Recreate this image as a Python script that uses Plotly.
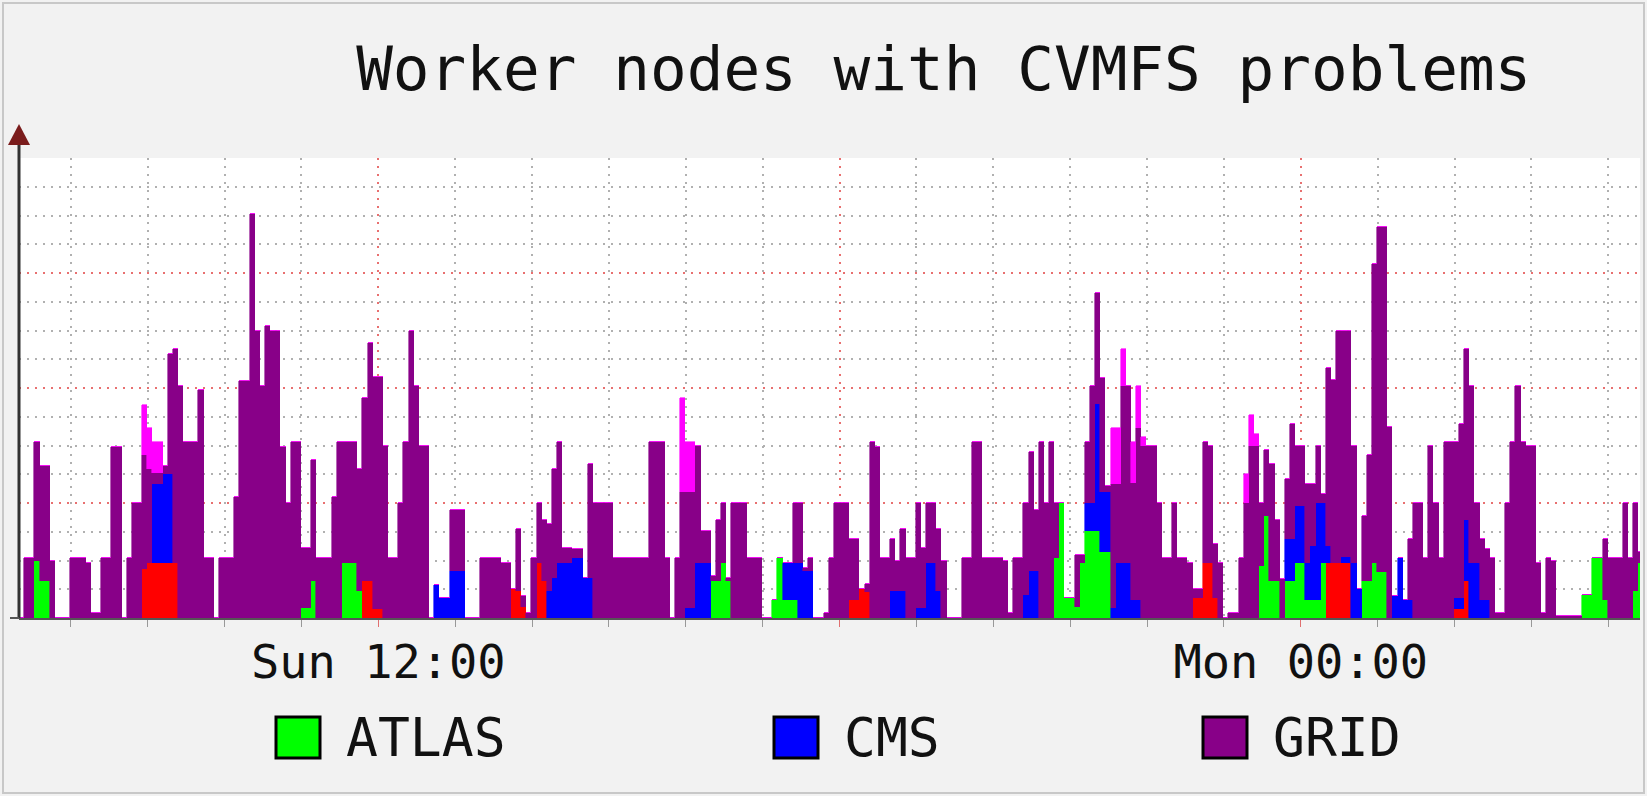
import plotly.graph_objects as go
import pandas as pd

# ---------------- data (4-minute samples) ----------------
START = "2024-03-10 07:19:34"      # a Sunday; left edge of the time axis
END = "2024-03-11 04:24:45"        # right edge of the time axis
STEP = "4min"

# GRID (purple)
grid = [
    0, 1.05, 1.05, 2.06, 2.01, 2.01, 1.0, 0, 0, 0,                 # 0
    1.05, 1.05, 1.05, 0.96, 0.09, 0.09, 1.05, 1.05, 2.98, 2.98,   # 10
    0, 1.05, 2.0, 2.0, 1.98, 1.64, 0.2, 0.2, 0.15, 2.1,           # 20
    3.71, 4.03, 3.06, 3.06, 3.06, 3.97, 1.05, 1.05, 0, 1.05,      # 30
    1.05, 1.05, 2.1, 4.12, 4.12, 7.03, 5.0, 4.03, 5.08, 5.0,      # 40
    5.0, 2.98, 2.0, 3.06, 3.06, 1.05, 1.05, 2.1, 1.05, 1.05,      # 50
    1.05, 2.1, 3.06, 2.1, 2.1, 2.1, 2.13, 3.18, 4.14, 4.05,       # 60
    4.05, 3.0, 1.05, 1.05, 2.0, 3.06, 5.0, 4.03, 3.0, 3.0,        # 70
    0, 0, 0, 0, 1.05, 1.05, 1.05, 0, 0, 0,                        # 80
    1.05, 1.05, 1.05, 1.05, 0.96, 0.96, 0, 1.08, 0.18, 0.09,      # 90
    1.05, 1.04, 1.06, 1.16, 1.9, 2.1, 0.26, 0.26, 0.15, 0.15,     # 100
    0, 1.98, 2.0, 2.0, 2.0, 2.0, 1.05, 1.05, 1.05, 1.05,          # 110
    1.05, 1.05, 1.05, 3.06, 3.06, 3.06, 1.05, 0, 1.05, 2.19,      # 120
    2.02, 2.02, 2.04, 0.56, 0.56, 0.09, 1.06, 1.04, 0.06, 2.0,    # 130
    2.0, 2.0, 1.05, 1.05, 1.05, 0, 0, 0, 0, 0,                    # 140
    0, 1.04, 1.04, 0.05, 0.23, 0, 0, 0.09, 1.05, 2.0,             # 150
    2.0, 2.0, 1.05, 1.05, 0, 0.15, 3.06, 2.98, 1.05, 1.05,        # 160
    0.9, 0.53, 1.08, 1.05, 1.05, 1.83, 1.05, 1.04, 1.04, 1.08,    # 170
    1.0, 0, 0, 0, 1.05, 1.05, 3.06, 3.06, 1.05, 1.05,             # 180
    1.05, 1.05, 1.0, 0.09, 1.05, 1.05, 1.6, 2.06, 1.05, 3.06,     # 190
    2.0, 3.06, 0.95, 0, 0, 0, 0.9, 0.14, 1.06, 2.03,              # 200
    1.93, 1.98, 0.11, 2.16, 1.37, 3.07, 3.07, 2.03, 2.98, 3.0,    # 210
    3.0, 3.0, 2.0, 1.05, 1.05, 2.0, 1.05, 1.05, 0.96, 0.15,       # 220
    0.15, 2.1, 2.04, 0.93, 0.96, 0, 0.09, 0.09, 1.05, 2.0,        # 230
    3.0, 3.0, 1.1, 1.14, 2.04, 1.06, 0.67, 1.05, 2.01, 1.05,      # 240
    1.05, 1.37, 1.08, 1.0, 0.16, 3.09, 3.18, 4.04, 3.94, 3.94,    # 250
    2.04, 0, 1.14, 2.19, 5.19, 6.0, 6.0, 3.33, 0, 0,              # 260
    0, 1.05, 2.0, 2.0, 1.05, 3.0, 2.0, 1.05, 3.06, 3.06,          # 270
    2.71, 3.03, 2.97, 3.07, 1.04, 1.05, 0.88, 1.05, 0.09, 0.09,   # 280
    2.0, 3.06, 4.03, 3.06, 3.0, 3.0, 0.96, 0.09, 1.05, 1.0,       # 290
    0.03, 0.03, 0.03, 0.03, 0.03, 0, 0, 0, 0, 1.05,               # 300
    1.05, 1.05, 1.05, 2.0, 1.05, 1.53, 0.18,                      # 310
]

# ATLAS (green)
atlas = [
    0, 0, 0, 1.0, 0.64, 0.64, 0, 0, 0, 0,          # 0
    0, 0, 0, 0, 0, 0, 0, 0, 0, 0,                  # 10
    0, 0, 0, 0, 0, 0, 0, 0, 0, 0,                  # 20
    0, 0, 0, 0, 0, 0, 0, 0, 0, 0,                  # 30
    0, 0, 0, 0, 0, 0, 0, 0, 0, 0,                  # 40
    0, 0, 0, 0, 0, 0.17, 0.17, 0.64, 0, 0,         # 50
    0, 0, 0, 0.96, 0.96, 0.96, 0.47, 0, 0, 0,      # 60
    0, 0, 0, 0, 0, 0, 0, 0, 0, 0,                  # 70
    0, 0, 0, 0, 0, 0, 0, 0, 0, 0,                  # 80
    0, 0, 0, 0, 0, 0, 0, 0, 0, 0,                  # 90
    0, 0, 0, 0, 0, 0, 0, 0, 0, 0,                  # 100
    0, 0, 0, 0, 0, 0, 0, 0, 0, 0,                  # 110
    0, 0, 0, 0, 0, 0, 0, 0, 0, 0,                  # 120
    0, 0, 0, 0, 0, 0.64, 0.64, 0.96, 0.64, 0,      # 130
    0, 0, 0, 0, 0, 0, 0, 0.32, 1.05, 0.32,         # 140
    0.32, 0.32, 0, 0, 0, 0, 0, 0, 0, 0,            # 150
    0, 0, 0, 0, 0, 0, 0, 0, 0, 0,                  # 160
    0, 0, 0, 0, 0, 0, 0, 0, 0, 0,                  # 170
    0, 0, 0, 0, 0, 0, 0, 0, 0, 0,                  # 180
    0, 0, 0, 0, 0, 0, 0, 0, 0, 0,                  # 190
    0, 0, 1.05, 2.0, 0.35, 0.35, 0.2, 0.96, 1.52, 1.52,   # 200
    1.52, 1.14, 1.14, 0, 0, 0, 0, 0, 0, 0,         # 210
    0, 0, 0, 0, 0, 0, 0, 0, 0, 0,                  # 220
    0, 0, 0, 0, 0, 0, 0, 0, 0, 0,                  # 230
    0, 0, 0.9, 1.78, 0.64, 0.64, 0, 0.64, 0.64, 0.96,     # 240
    0.96, 0.32, 0.32, 0.32, 0.96, 0, 0, 0, 0, 0,   # 250
    0, 0, 0.64, 0.64, 0.96, 0.8, 0.8, 0, 0, 0,     # 260
    0, 0, 0, 0, 0, 0, 0, 0, 0, 0,                  # 270
    0, 0, 0, 0, 0, 0, 0, 0, 0, 0,                  # 280
    0, 0, 0, 0, 0, 0, 0, 0, 0, 0,                  # 290
    0, 0, 0, 0, 0, 0.4, 0.4, 1.05, 1.05, 0.32,     # 300
    0, 0, 0, 0, 0, 0.47, 0.96,                     # 310
]

# CMS (blue)
cms = [
    0, 0, 0, 0, 0, 0, 0, 0, 0, 0,                  # 0
    0, 0, 0, 0, 0, 0, 0, 0, 0, 0,                  # 10
    0, 0, 0, 0, 0, 0, 1.37, 1.37, 1.54, 1.54,      # 20
    0, 0, 0, 0, 0, 0, 0, 0, 0, 0,                  # 30
    0, 0, 0, 0, 0, 0, 0, 0, 0, 0,                  # 40
    0, 0, 0, 0, 0, 0, 0, 0, 0, 0,                  # 50
    0, 0, 0, 0, 0, 0, 0, 0, 0, 0,                  # 60
    0, 0, 0, 0, 0, 0, 0, 0, 0, 0,                  # 70
    0, 0.58, 0.35, 0.35, 0.82, 0.82, 0.82, 0, 0, 0,       # 80
    0, 0, 0, 0, 0, 0, 0, 0, 0, 0,                  # 90
    0, 0, 0, 0.47, 0.7, 0.96, 0.96, 0.96, 1.05, 1.05,     # 100
    0.7, 0.7, 0, 0, 0, 0, 0, 0, 0, 0,              # 110
    0, 0, 0, 0, 0, 0, 0, 0, 0, 0,                  # 120
    0.17, 0.17, 0.96, 0.96, 0.96, 0, 0, 0, 0, 0,   # 130
    0, 0, 0, 0, 0, 0, 0, 0, 0, 0.64,               # 140
    0.64, 0.64, 0.96, 0.82, 0.82, 0, 0, 0, 0, 0,   # 150
    0, 0, 0, 0, 0, 0, 0, 0, 0, 0,                  # 160
    0.47, 0.47, 0.47, 0, 0, 0.17, 0.17, 0.96, 0.96, 0.47, # 170
    0, 0, 0, 0, 0, 0, 0, 0, 0, 0,                  # 180
    0, 0, 0, 0, 0, 0, 0.4, 0.82, 0.82, 0,          # 190
    0, 0, 0, 0, 0, 0, 0, 0, 0.48, 0.48,            # 200
    2.21, 1.05, 1.05, 0.17, 0.96, 0.96, 0.96, 0.32, 0.32, 0,  # 210
    0, 0, 0, 0, 0, 0, 0, 0, 0, 0,                  # 220
    0, 0, 0, 0, 0, 0, 0, 0, 0, 0,                  # 230
    0, 0, 0, 0, 0, 0, 0, 0.73, 0.73, 0.99,         # 240
    0.99, 0.64, 0.93, 1.68, 1.04, 0.3, 0, 0, 0.1, 0.1,    # 250
    0.96, 0.5, 0, 0, 0, 0, 0, 0, 0.38, 1.05,       # 260
    0.32, 0.32, 0, 0, 0, 0, 0, 0, 0, 0,            # 270
    0.2, 0.2, 1.06, 0.96, 0.96, 0.32, 0.32, 0, 0, 0,      # 280
    0, 0, 0, 0, 0, 0, 0, 0, 0, 0,                  # 290
    0, 0, 0, 0, 0, 0, 0, 0, 0, 0,                  # 300
    0, 0, 0, 0, 0, 0, 0,                           # 310
]

# unlabelled red series (drawn at the bottom of the stack)
red_series = [
    0, 0, 0, 0, 0, 0, 0, 0, 0, 0,                  # 0
    0, 0, 0, 0, 0, 0, 0, 0, 0, 0,                  # 10
    0, 0, 0, 0, 0.85, 0.96, 0.96, 0.96, 0.96, 0.96,       # 20
    0.96, 0, 0, 0, 0, 0, 0, 0, 0, 0,               # 30
    0, 0, 0, 0, 0, 0, 0, 0, 0, 0,                  # 40
    0, 0, 0, 0, 0, 0, 0, 0, 0, 0,                  # 50
    0, 0, 0, 0, 0, 0, 0, 0.64, 0.64, 0.15,         # 60
    0.15, 0, 0, 0, 0, 0, 0, 0, 0, 0,               # 70
    0, 0, 0, 0, 0, 0, 0, 0, 0, 0,                  # 80
    0, 0, 0, 0, 0, 0, 0.5, 0.47, 0.2, 0,           # 90
    0, 0.96, 0.64, 0, 0, 0, 0, 0, 0, 0,            # 100
    0, 0, 0, 0, 0, 0, 0, 0, 0, 0,                  # 110
    0, 0, 0, 0, 0, 0, 0, 0, 0, 0,                  # 120
    0, 0, 0, 0, 0, 0, 0, 0, 0, 0,                  # 130
    0, 0, 0, 0, 0, 0, 0, 0, 0, 0,                  # 140
    0, 0, 0, 0, 0, 0, 0, 0, 0, 0,                  # 150
    0, 0, 0.32, 0.32, 0.5, 0.45, 0, 0, 0, 0,       # 160
    0, 0, 0, 0, 0, 0, 0, 0, 0, 0,                  # 170
    0, 0, 0, 0, 0, 0, 0, 0, 0, 0,                  # 180
    0, 0, 0, 0, 0, 0, 0, 0, 0, 0,                  # 190
    0, 0, 0, 0, 0, 0, 0, 0, 0, 0,                  # 200
    0, 0, 0, 0, 0, 0, 0, 0, 0, 0,                  # 210
    0, 0, 0, 0, 0, 0, 0, 0, 0, 0.35,               # 220
    0.35, 0.96, 0.96, 0.35, 0, 0, 0, 0, 0, 0,      # 230
    0, 0, 0, 0, 0, 0, 0, 0, 0, 0,                  # 240
    0, 0, 0, 0, 0, 0.96, 0.96, 0.96, 0.96, 0.96,   # 250
    0, 0, 0, 0, 0, 0, 0, 0, 0, 0,                  # 260
    0, 0, 0, 0, 0, 0, 0, 0, 0, 0,                  # 270
    0.15, 0.15, 0.64, 0, 0, 0, 0, 0, 0, 0,         # 280
    0, 0, 0, 0, 0, 0, 0, 0, 0, 0,                  # 290
    0, 0, 0, 0, 0, 0, 0, 0, 0, 0,                  # 300
    0, 0, 0, 0, 0, 0, 0,                           # 310
]

# unlabelled magenta series (drawn at the top of the stack)
magenta_series = [
    0, 0, 0, 0, 0, 0, 0, 0, 0, 0,                  # 0
    0, 0, 0, 0, 0, 0, 0, 0, 0, 0,                  # 10
    0, 0, 0, 0, 0.87, 0.7, 0.53, 0.53, 0, 0,       # 20
    0, 0, 0, 0, 0, 0, 0, 0, 0, 0,                  # 30
    0, 0, 0, 0, 0, 0, 0, 0, 0, 0,                  # 40
    0, 0, 0, 0, 0, 0, 0, 0, 0, 0,                  # 50
    0, 0, 0, 0, 0, 0, 0, 0, 0, 0,                  # 60
    0, 0, 0, 0, 0, 0, 0, 0, 0, 0,                  # 70
    0, 0, 0, 0, 0, 0, 0, 0, 0, 0,                  # 80
    0, 0, 0, 0, 0, 0, 0, 0, 0, 0,                  # 90
    0, 0, 0, 0, 0, 0, 0, 0, 0, 0,                  # 100
    0, 0, 0, 0, 0, 0, 0, 0, 0, 0,                  # 110
    0, 0, 0, 0, 0, 0, 0, 0, 0, 1.63,               # 120
    0.87, 0.87, 0, 0, 0, 0, 0, 0, 0, 0,            # 130
    0, 0, 0, 0, 0, 0, 0, 0, 0, 0,                  # 140
    0, 0, 0, 0, 0, 0, 0, 0, 0, 0,                  # 150
    0, 0, 0, 0, 0, 0, 0, 0, 0, 0,                  # 160
    0, 0, 0, 0, 0, 0, 0, 0, 0, 0,                  # 170
    0, 0, 0, 0, 0, 0, 0, 0, 0, 0,                  # 180
    0, 0, 0, 0, 0, 0, 0, 0, 0, 0,                  # 190
    0, 0, 0, 0, 0, 0, 0, 0, 0, 0,                  # 200
    0, 0, 0, 0.97, 0.97, 0.64, 0, 0.71, 0.73, 0.15,       # 210
    0, 0, 0, 0, 0, 0, 0, 0, 0, 0,                  # 220
    0, 0, 0, 0, 0, 0, 0, 0, 0, 0.5,                # 230
    0.53, 0.2, 0, 0, 0, 0, 0, 0, 0, 0,             # 240
    0, 0, 0, 0, 0, 0, 0, 0, 0, 0,                  # 250
    0, 0, 0, 0, 0, 0, 0, 0, 0, 0,                  # 260
    0, 0, 0, 0, 0, 0, 0, 0, 0, 0,                  # 270
    0, 0, 0, 0, 0, 0, 0, 0, 0, 0,                  # 280
    0, 0, 0, 0, 0, 0, 0, 0, 0, 0,                  # 290
    0, 0, 0, 0, 0, 0, 0, 0, 0, 0,                  # 300
    0, 0, 0, 0, 0, 0, 0,                           # 310
]

TICK_TIMES = ["2024-03-10 12:00", "2024-03-10 18:00", "2024-03-11 00:00"]
TICK_TEXT = ["Sun 12:00", "", "Mon 00:00"]
LEGEND_NAMES = ["ATLAS", "CMS", "GRID"]
TITLE = "Worker nodes with CVMFS problems"

# ---------------- styling ----------------
C_RED, C_GREEN, C_BLUE, C_PURPLE, C_MAGENTA = "#ff0000", "#00ff00", "#0000ff", "#880088", "#ff00ff"
FONT = "DejaVu Sans Mono"
BG = "#f2f2f2"
W, H = 1647, 796

n = len(grid)
for arr in (atlas, cms, red_series, magenta_series):
    assert len(arr) == n, len(arr)

step = pd.Timedelta(STEP)
times = pd.date_range(START, periods=n, freq=STEP) + step / 2
width_ms = step.total_seconds() * 1000

fig = go.Figure()
for vals, col, name in [
    (red_series, C_RED, "other"),
    (atlas, C_GREEN, "ATLAS"),
    (cms, C_BLUE, "CMS"),
    (grid, C_PURPLE, "GRID"),
    (magenta_series, C_MAGENTA, "other2"),
]:
    fig.add_trace(go.Bar(
        x=times, y=vals, width=width_ms, name=name,
        marker=dict(color=col, line=dict(color=col, width=0.6)),
        showlegend=False, hoverinfo="skip",
    ))

dots = "2px,6px"
RED_GRID = "#e87070"
GRAY_GRID = "#b0b0b0"
fig.update_layout(
    width=W, height=H,
    paper_bgcolor=BG, plot_bgcolor="white",
    barmode="stack", bargap=0,
    margin=dict(l=19, r=7, t=158, b=178),
    title=dict(text=TITLE, font=dict(family=FONT, size=61, color="#111111"),
               xref="container", x=0.573, xanchor="center",
               yref="container", y=1 - 69 / H, yanchor="middle"),
    xaxis=dict(
        type="date", range=[START, END],
        tickvals=TICK_TIMES, ticktext=TICK_TEXT,
        showgrid=True, gridcolor=RED_GRID, griddash=dots, gridwidth=1.5,
        ticks="outside", ticklen=7, tickcolor="#e07070", tickwidth=1,
        ticklabelstandoff=-5,
        minor=dict(dtick=3600000, tick0="2024-03-10 00:00", showgrid=True,
                   gridcolor=GRAY_GRID, griddash=dots, gridwidth=1.5,
                   ticks="outside", ticklen=7, tickcolor="#999999"),
        showline=True, linecolor="#555555", linewidth=2,
        zeroline=False,
        tickfont=dict(family=FONT, size=47, color="#111111"),
    ),
    yaxis=dict(
        range=[0, 8], tickvals=[0, 2, 4, 6, 8], showticklabels=False,
        showgrid=True, gridcolor=RED_GRID, griddash=dots, gridwidth=1.5,
        minor=dict(dtick=0.5, tick0=0, showgrid=True, gridcolor=GRAY_GRID,
                   griddash=dots, gridwidth=1.5),
        ticks="", zeroline=False, showline=False, fixedrange=True,
    ),
)

PLOT_L, PLOT_W, PLOT_T, PLOT_B, PLOT_H = 19, 1621, 158, 618, 460


def px_x(px):
    return (px - PLOT_L) / PLOT_W


def px_y(py):
    return (PLOT_B - py) / PLOT_H


shapes = [
    # thin frame around the whole image
    dict(type="rect", xref="paper", yref="paper",
         x0=px_x(3), x1=px_x(W - 3), y0=px_y(H - 3), y1=px_y(3),
         line=dict(color="#c8c8c8", width=2), fillcolor="rgba(0,0,0,0)", layer="below"),
    # y axis line extending above the plot
    dict(type="line", xref="paper", yref="paper", xsizemode="pixel", ysizemode="pixel",
         xanchor=0, yanchor=0, x0=0, x1=0, y0=0, y1=475,
         line=dict(color="#333333", width=3), layer="above"),
    # arrow head
    dict(type="path", xref="paper", yref="paper", xsizemode="pixel", ysizemode="pixel",
         xanchor=0, yanchor=1, path="M -11,13 L 11,13 L 0,34 Z",
         fillcolor="#7a1c1c", line=dict(width=0), layer="above"),
    # baseline extending slightly left of the y axis
    dict(type="line", xref="paper", yref="paper", xsizemode="pixel", ysizemode="pixel",
         xanchor=0, yanchor=0, x0=-9, x1=0, y0=0, y1=0,
         line=dict(color="#555555", width=2), layer="above"),
]

# manual legend (boxes + labels)
legend_colors = [C_GREEN, C_BLUE, C_PURPLE]
box_left_px = [276, 774, 1203]
annotations = []
for name, col, bx in zip(LEGEND_NAMES, legend_colors, box_left_px):
    y0, y1 = px_y(758), px_y(717)
    shapes.append(dict(type="rect", xref="paper", yref="paper",
                       x0=px_x(bx), x1=px_x(bx + 44), y0=y0, y1=y1,
                       fillcolor=col, line=dict(color="#000000", width=3)))
    annotations.append(dict(text=name, xref="paper", yref="paper",
                            x=px_x(bx + 68), y=(y0 + y1) / 2,
                            xanchor="left", yanchor="middle", showarrow=False,
                            font=dict(family=FONT, size=53, color="#111111")))

fig.update_layout(shapes=shapes, annotations=annotations)
fig.write_html("out.html", config={"displayModeBar": False},
               post_script="document.body.style.margin='0';")
